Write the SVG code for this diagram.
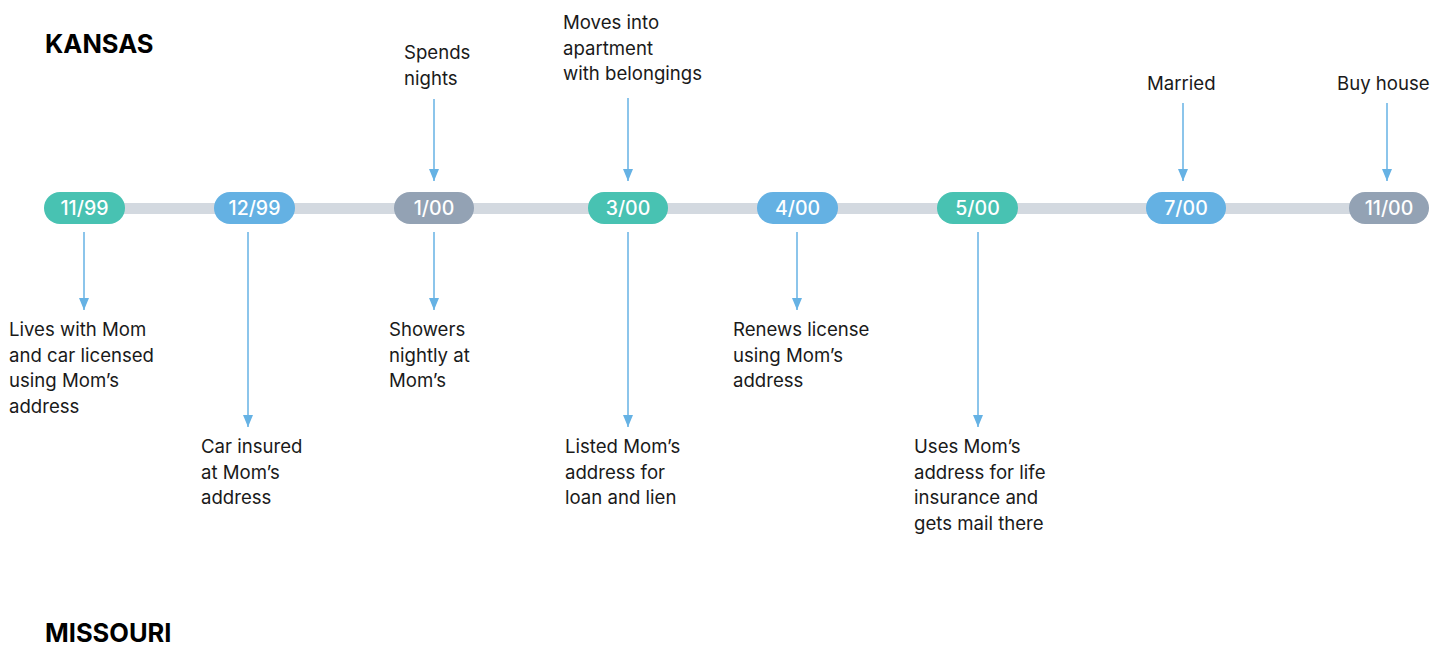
<svg xmlns="http://www.w3.org/2000/svg" width="1448" height="647" viewBox="0 0 1448 647">
<defs>
<marker id="ah" markerWidth="12" markerHeight="10" refX="12" refY="5" orient="auto" markerUnits="userSpaceOnUse" viewBox="0 0 12 10">
<path d="M0,0 L12,5 L0,10 Z" fill="#66b2e4"/>
</marker>
<style>
.lbl{font-family:Inter,"Noto Sans",sans-serif;font-size:18.6px;fill:#1a1a1a}
.hdr{font-family:Inter,"Noto Sans",sans-serif;font-size:25.5px;font-weight:700;fill:#000}
.pt{font-family:Inter,"Noto Sans",sans-serif;font-size:19.5px;font-weight:500;fill:#fff;text-anchor:middle}
.teal{fill:#48c2b2}.blue{fill:#64b1e3}.gray{fill:#93a2b4}
.c{stroke:#66b2e4;stroke-width:1.5;fill:none}
</style>
</defs>
<rect width="1448" height="647" fill="#fff"/>
<text class="hdr" x="45" y="53">KANSAS</text>
<text class="hdr" x="45" y="642">MISSOURI</text>
<rect x="120" y="203" width="1235" height="11" fill="#d3d9e0"/>
<g id="connectors">
<line class="c" x1="84" y1="232" x2="84" y2="310" marker-end="url(#ah)"/>
<line class="c" x1="248" y1="232" x2="248" y2="427" marker-end="url(#ah)"/>
<line class="c" x1="434" y1="232" x2="434" y2="310" marker-end="url(#ah)"/>
<line class="c" x1="628" y1="232" x2="628" y2="427" marker-end="url(#ah)"/>
<line class="c" x1="797" y1="232" x2="797" y2="310" marker-end="url(#ah)"/>
<line class="c" x1="978" y1="232" x2="978" y2="427" marker-end="url(#ah)"/>
<line class="c" x1="434" y1="99" x2="434" y2="181" marker-end="url(#ah)"/>
<line class="c" x1="628" y1="98" x2="628" y2="181" marker-end="url(#ah)"/>
<line class="c" x1="1183" y1="103" x2="1183" y2="181" marker-end="url(#ah)"/>
<line class="c" x1="1387" y1="103" x2="1387" y2="181" marker-end="url(#ah)"/>
</g>
<g id="n1199"><rect class="teal" x="44" y="192" width="81" height="32" rx="16"/><text class="pt" x="84.5" y="215">11/99</text></g>
<g id="n1299"><rect class="blue" x="214" y="192" width="81" height="32" rx="16"/><text class="pt" x="254.5" y="215">12/99</text></g>
<g id="n100"><rect class="gray" x="394" y="192" width="80" height="32" rx="16"/><text class="pt" x="434" y="215">1/00</text></g>
<g id="n300"><rect class="teal" x="588" y="192" width="80" height="32" rx="16"/><text class="pt" x="628" y="215">3/00</text></g>
<g id="n400"><rect class="blue" x="757" y="192" width="81" height="32" rx="16"/><text class="pt" x="797.5" y="215">4/00</text></g>
<g id="n500"><rect class="teal" x="937" y="192" width="81" height="32" rx="16"/><text class="pt" x="977.5" y="215">5/00</text></g>
<g id="n700"><rect class="blue" x="1146" y="192" width="80" height="32" rx="16"/><text class="pt" x="1186" y="215">7/00</text></g>
<g id="n1100"><rect class="gray" x="1349" y="192" width="80" height="32" rx="16"/><text class="pt" x="1389" y="215">11/00</text></g>
<g id="t1"><text class="lbl" x="9" y="336"><tspan x="9">Lives with Mom</tspan><tspan x="9" dy="25.7">and car licensed</tspan><tspan x="9" dy="25.7">using Mom’s</tspan><tspan x="9" dy="25.7">address</tspan></text></g>
<g id="t2"><text class="lbl" x="201" y="453"><tspan x="201">Car insured</tspan><tspan x="201" dy="25.7">at Mom’s</tspan><tspan x="201" dy="25.7">address</tspan></text></g>
<g id="t3"><text class="lbl" x="389" y="336"><tspan x="389">Showers</tspan><tspan x="389" dy="25.7">nightly at</tspan><tspan x="389" dy="25.7">Mom’s</tspan></text></g>
<g id="t4"><text class="lbl" x="404" y="59"><tspan x="404">Spends</tspan><tspan x="404" dy="25.7">nights</tspan></text></g>
<g id="t5"><text class="lbl" x="563" y="29"><tspan x="563">Moves into</tspan><tspan x="563" dy="25.7">apartment</tspan><tspan x="563" dy="25.7">with belongings</tspan></text></g>
<g id="t6"><text class="lbl" x="565" y="453"><tspan x="565">Listed Mom’s</tspan><tspan x="565" dy="25.7">address for</tspan><tspan x="565" dy="25.7">loan and lien</tspan></text></g>
<g id="t7"><text class="lbl" x="733" y="336"><tspan x="733">Renews license</tspan><tspan x="733" dy="25.7">using Mom’s</tspan><tspan x="733" dy="25.7">address</tspan></text></g>
<g id="t8"><text class="lbl" x="914" y="453"><tspan x="914">Uses Mom’s</tspan><tspan x="914" dy="25.7">address for life</tspan><tspan x="914" dy="25.7">insurance and</tspan><tspan x="914" dy="25.7">gets mail there</tspan></text></g>
<g id="t9"><text class="lbl" x="1147" y="90">Married</text></g>
<g id="t10"><text class="lbl" x="1337" y="90">Buy house</text></g>
</svg>
